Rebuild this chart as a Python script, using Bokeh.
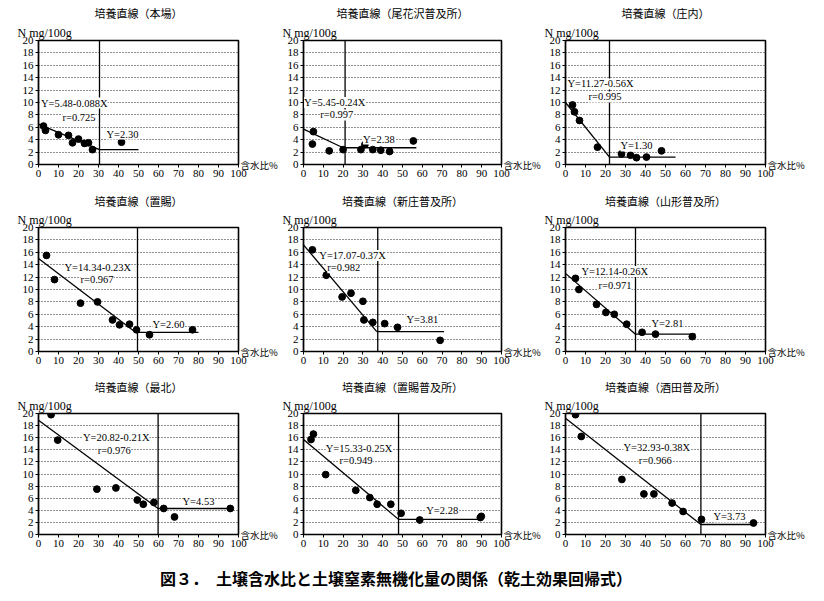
from bokeh.plotting import figure
from bokeh.models import Label, Span, Div, FixedTicker, Title, LinearAxis
from bokeh.layouts import column, row
from bokeh.embed import file_html
from bokeh.resources import INLINE

# ---------------- data ----------------
titles = ["培養直線（本場）", "培養直線（尾花沢普及所）", "培養直線（庄内）",
          "培養直線（置賜）", "培養直線（新庄普及所）", "培養直線（山形普及所）",
          "培養直線（最北）", "培養直線（置賜普及所）", "培養直線（酒田普及所）"]

pts_x = [
    [2.5, 3.5, 10, 15, 17, 20, 23, 25, 27, 41.5],
    [4.5, 5, 13, 20, 29, 31, 35, 39, 43.5, 55.5],
    [3.5, 4.5, 7, 16, 28, 32.5, 35.5, 40.5, 48],
    [4, 8, 21, 29.5, 37, 40.5, 45.5, 49, 55.5, 77],
    [4.5, 11.5, 19.5, 24, 30, 30.5, 35, 41, 47.5, 69],
    [5, 6.7, 15.5, 20.2, 24.4, 30.6, 38.3, 45, 63.4],
    [6.3, 9.6, 29.2, 38.7, 49.4, 52.4, 57.7, 62.6, 68, 95.9],
    [3.8, 5, 11.2, 26.4, 33.5, 37.2, 44.1, 49.3, 58.7, 89.3, 89.8],
    [5, 7.9, 28.2, 39.2, 44.2, 53.3, 58.8, 68, 94],
]
pts_y = [
    [6.2, 5.5, 4.8, 4.7, 3.5, 4.1, 3.4, 3.5, 2.4, 3.6],
    [3.3, 5.3, 2.2, 2.4, 2.4, 3.2, 2.4, 2.3, 2.1, 3.8],
    [9.6, 8.5, 7.1, 2.8, 1.7, 1.5, 1.1, 1.2, 2.2],
    [15.5, 11.6, 7.8, 8.0, 5.1, 4.3, 4.4, 3.5, 2.7, 3.5],
    [16.4, 12.3, 8.8, 9.4, 8.1, 5.1, 4.7, 4.5, 3.9, 1.8],
    [11.8, 10.0, 7.6, 6.3, 6.0, 4.4, 3.1, 2.8, 2.4],
    [19.8, 15.6, 7.5, 7.7, 5.7, 5.0, 5.3, 4.3, 2.9, 4.3],
    [15.7, 16.6, 9.9, 7.3, 6.1, 5.0, 5.0, 3.5, 2.4, 2.8, 3.0],
    [19.8, 16.2, 9.1, 6.7, 6.7, 5.2, 3.8, 2.5, 1.9],
]

# fitted lines as drawn: value at x=0, break point, plateau level, plateau end, vertical line
line_start = [6.5, 5.7, 10.0, 15.0, 17.2, 12.6, 18.9, 15.7, 19.2]
break_x = [30.5, 20, 22, 48.5, 37, 35, 59.8, 48, 67.7]
plateau_y = [2.4, 2.7, 1.2, 3.1, 3.2, 2.8, 4.3, 2.5, 1.65]
plateau_end = [50, 57, 55, 80, 71, 65, 96, 90, 95]
vline_x = [30.5, 21, 22, 49.5, 37.5, 35, 59.8, 48, 67.7]

eq_text = ["Y=5.48-0.088X", "Y=5.45-0.24X", "Y=11.27-0.56X",
           "Y=14.34-0.23X", "Y=17.07-0.37X", "Y=12.14-0.26X",
           "Y=20.82-0.21X", "Y=15.33-0.25X", "Y=32.93-0.38X"]
r_text = ["r=0.725", "r=0.997", "r=0.995", "r=0.967", "r=0.982",
          "r=0.971", "r=0.976", "r=0.949", "r=0.966"]
pl_text = ["Y=2.30", "Y=2.38", "Y=1.30", "Y=2.60", "Y=3.81",
           "Y=2.81", "Y=4.53", "Y=2.28", "Y=3.73"]

x_ticks = list(range(0, 101, 10))
y_ticks = list(range(0, 21, 2))
y_unit = "N mg/100g"
x_unit = "含水比%"
fig_title = "図３．　土壌含水比と土壌窒素無機化量の関係（乾土効果回帰式）"

# ---------------- label placement (data units) ----------------
eq_pos = [(1.2, 9.9), (0.3, 10), (1, 13), (13, 13.6), (8, 15.5),
          (8, 12.9), (22.2, 16), (11.2, 14.2), (29, 14.3)]
r_pos = [(12, 7.6), (8.5, 8), (11.5, 10.9), (21, 11.6), (12, 13.5),
         (16.5, 10.7), (29.6, 13.9), (18.2, 12.2), (36.6, 12.3)]
pl_pos = [(34, 4.9), (30, 4.1), (27.5, 3.0), (57, 4.4), (52, 5.2),
          (43, 4.5), (72, 5.4), (62, 3.9), (74, 2.9)]

# (figure width, left border, right border) per column; (height, top, bottom) per row
col_geom = [(281, 38, 43), (262, 22, 40), (273, 22, 51)]
row_geom = [(190, 40, 26), (186, 34, 25), (190, 33, 32)]
title_standoff = [3, 1, 1]

SERIF = "Liberation Serif"
CJK = "Noto Sans CJK JP"

figs = []
for i in range(9):
    r, c = divmod(i, 3)
    w, bl, br = col_geom[c]
    h, bt, bb = row_geom[r]
    p = figure(width=w, height=h, x_range=(0, 100), y_range=(0, 20),
               output_backend="svg", toolbar_location=None,
               min_border_left=bl, min_border_right=br,
               min_border_top=bt, min_border_bottom=bb)
    p.background_fill_color = "white"
    p.border_fill_color = "white"
    p.outline_line_color = "black"
    p.outline_line_width = 1.6
    p.xaxis.ticker = FixedTicker(ticks=x_ticks)
    p.yaxis.ticker = FixedTicker(ticks=y_ticks)
    p.xgrid.visible = False
    p.ygrid.grid_line_color = "#222222"
    p.ygrid.grid_line_dash = "1 2"
    p.ygrid.grid_line_width = 1
    p.axis.axis_line_color = "black"
    p.axis.axis_line_width = 1.2
    p.axis.major_tick_in = 0
    p.axis.major_tick_out = 3
    p.axis.minor_tick_line_color = None
    p.axis.major_label_standoff = 2
    p.axis.major_label_text_font = SERIF
    p.axis.major_label_text_font_size = "11px"
    p.axis.major_label_text_color = "black"

    # unit label on the right, at the x axis level
    rax = LinearAxis(ticker=FixedTicker(ticks=[0]), major_label_overrides={0: x_unit},
                     axis_line_color=None, major_tick_line_color=None,
                     major_tick_in=0, major_tick_out=0,
                     minor_tick_line_color=None, minor_tick_in=0, minor_tick_out=0,
                     major_label_standoff=2,
                     major_label_text_font=CJK, major_label_text_font_size="9.5px",
                     major_label_text_color="black")
    p.add_layout(rax, "right")

    # titles above the frame: unit first (closest to frame), panel title outside it
    p.add_layout(Title(text=y_unit, align="left", offset=-21, standoff=2,
                       text_font=SERIF, text_font_size="12px",
                       text_font_style="normal", text_color="black"), "above")
    p.add_layout(Title(text=titles[i], align="center", offset=3, standoff=title_standoff[r],
                       text_font=CJK, text_font_size="11px",
                       text_font_style="normal", text_color="black"), "above")

    p.scatter(pts_x[i], pts_y[i], size=6.8, color="black")
    p.line([0, break_x[i]], [line_start[i], plateau_y[i]], color="black", line_width=1.3)
    p.line([break_x[i], plateau_end[i]], [plateau_y[i], plateau_y[i]], color="black", line_width=1.3)
    p.add_layout(Span(location=vline_x[i], dimension="height", line_color="black", line_width=1.3))

    for txt, (lx, ly) in ((eq_text[i], eq_pos[i]), (r_text[i], r_pos[i]), (pl_text[i], pl_pos[i])):
        p.add_layout(Label(x=lx, y=ly, text=txt, text_font=SERIF, text_font_size="10.5px",
                           text_align="left", text_baseline="middle", text_color="black",
                           background_fill_color="white"))
    figs.append(p)

cap = Div(text=f'<div style="font-family:\'{CJK}\';font-size:16px;font-weight:bold;'
               f'padding-left:155px;margin-top:-4px;white-space:nowrap;">{fig_title}</div>',
          width=816, height=30)

layout = column(row(*figs[0:3]), row(*figs[3:6]), row(*figs[6:9]), cap)
open("out.html", "w").write(file_html(layout, INLINE))
